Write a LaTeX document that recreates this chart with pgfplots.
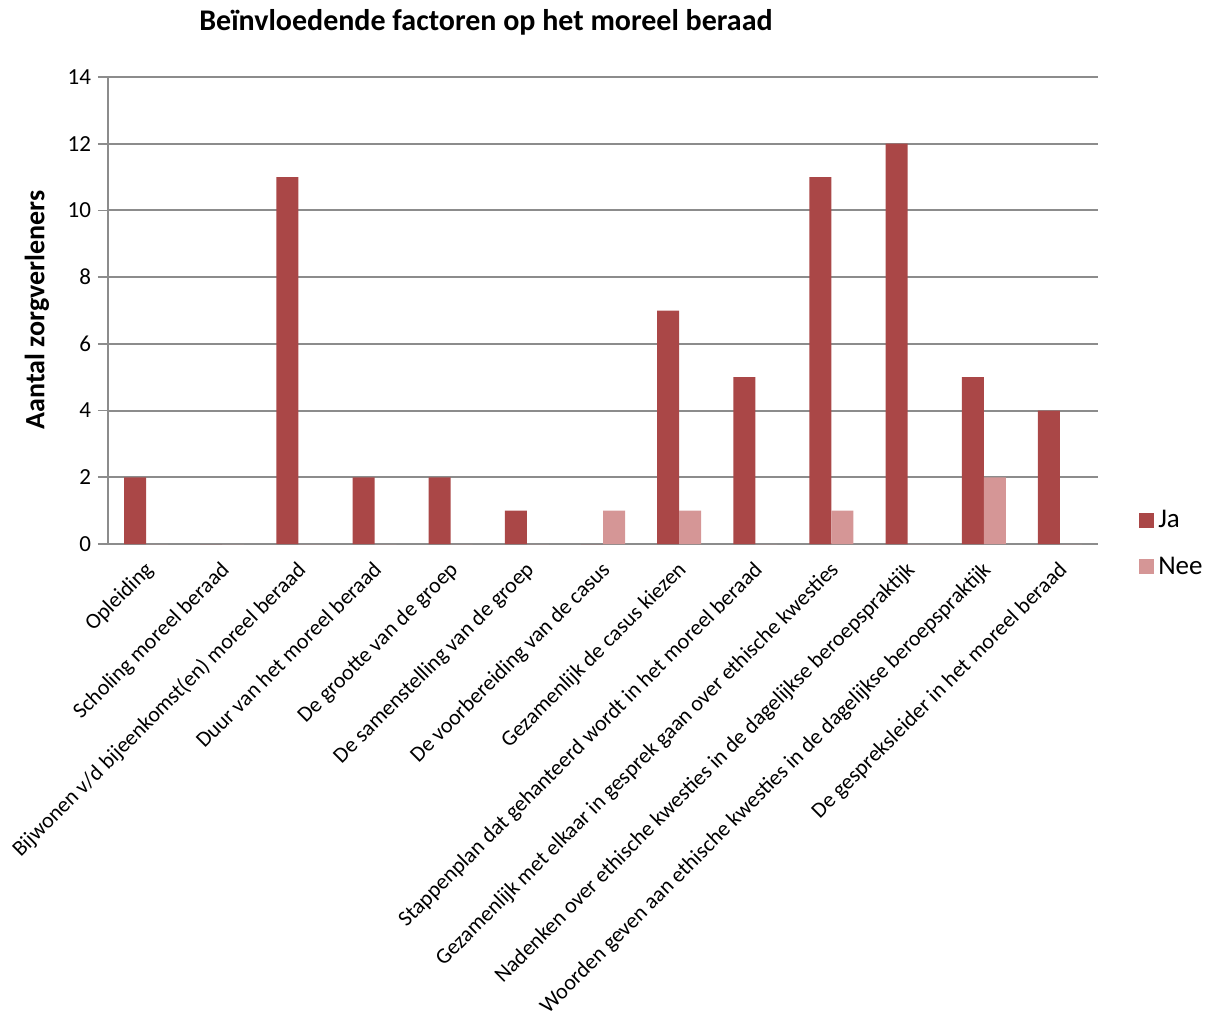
\documentclass[border=0pt]{standalone}
\usepackage{pgfplots}
\pgfplotsset{compat=1.18}
\usepackage{fontspec}
\setmainfont{Carlito}
\definecolor{ja}{HTML}{AA4747}
\definecolor{nee}{HTML}{D59696}
\definecolor{gridc}{HTML}{8C8C8C}
\begin{document}
\begin{tikzpicture}
\begin{axis}[
  at={(0,0)}, anchor=south west,
  scale only axis, width=495pt, height=233.5pt,
  xmin=-0.5, xmax=12.5, ymin=0, ymax=14,
  ybar=0pt, bar width=11pt,
  ytick={0,2,...,14},
  xtick={0,...,12},
  xticklabels={Opleiding,Scholing moreel beraad,Bijwonen v/d bijeenkomst(en) moreel beraad,Duur van het moreel beraad,De grootte van de groep,De samenstelling van de groep,De voorbereiding van de casus,Gezamenlijk de casus kiezen,Stappenplan dat gehanteerd wordt in het moreel beraad,Gezamenlijk met elkaar in gesprek gaan over ethische kwesties,Nadenken over ethische kwesties in de dagelijkse beroepspraktijk,Woorden geven aan ethische kwesties in de dagelijkse beroepspraktijk,De gespreksleider in het moreel beraad},
  xticklabel style={rotate=45, anchor=north east, font=\fontsize{11}{12}\selectfont, inner sep=1pt, xshift=-2pt},
  yticklabel style={font=\fontsize{11.5}{12}\selectfont},
  /pgf/number format/assume math mode=true,
  major x tick style={draw=none},
  major y tick style={gridc, line width=0.8pt},
  tick align=outside, major tick length=5pt,
  ymajorgrids, grid style={gridc, line width=1pt},
  axis x line*=bottom, axis y line*=left,
  axis line style={gridc, line width=1pt},
  x axis line style={-}, y axis line style={-},
  legend style={draw=none, at={(axis description cs:1.035,0.09)}, anchor=north west,
    font=\fontsize{13.5}{14}\selectfont, row sep=9pt, cells={anchor=west}},
  legend image code/.code={\fill[#1] (0pt,-3.8pt) rectangle (7.6pt,3.8pt);},
]
\addplot[fill=ja, draw=none] coordinates {(0,2) (1,0) (2,11) (3,2) (4,2) (5,1) (6,0) (7,7) (8,5) (9,11) (10,12) (11,5) (12,4)};
\addlegendentry{Ja}
\addplot[fill=nee, draw=none] coordinates {(0,0) (1,0) (2,0) (3,0) (4,0) (5,0) (6,1) (7,1) (8,0) (9,1) (10,0) (11,2) (12,0)};
\addlegendentry{Nee}
\end{axis}
\node[font=\bfseries\fontsize{15}{16}\selectfont] at (189pt,261pt) {Beïnvloedende factoren op het moreel beraad};
\node[font=\bfseries\fontsize{14}{15}\selectfont, rotate=90] at (-35.5pt,117pt) {Aantal zorgverleners};
\path[use as bounding box] (-54pt,-237.5pt) rectangle (554.5pt,272pt);
\end{tikzpicture}
\end{document}
